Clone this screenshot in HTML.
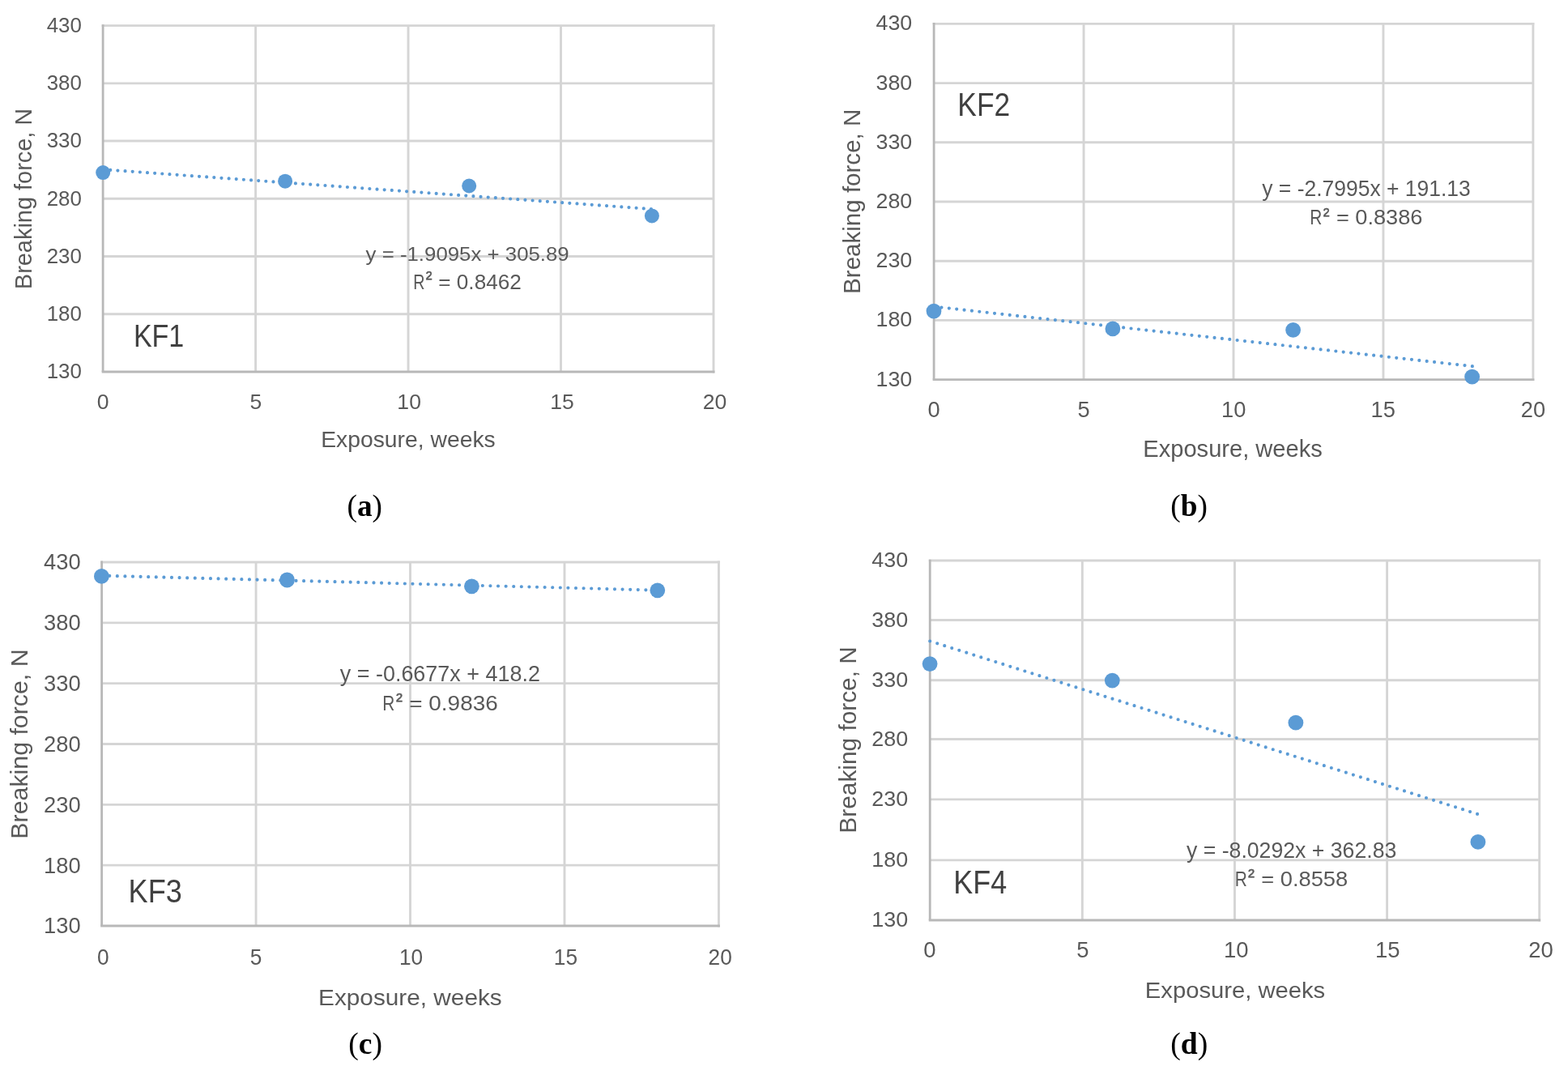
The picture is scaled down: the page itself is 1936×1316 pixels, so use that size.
<!DOCTYPE html>
<html><head><meta charset="utf-8"><title>Breaking force vs exposure</title>
<style>
html,body{margin:0;padding:0;background:#fff;}
svg{display:block;}
.s{font-family:"Liberation Sans",Arial,sans-serif;}
.p{font-family:"Liberation Serif","Times New Roman",serif;fill:#000;}
</style></head><body>
<svg width="1936" height="1316" viewBox="0 0 1936 1316">
<rect width="1936" height="1316" fill="#fff"/>
<g id="chart-a">
<line x1="127.1" y1="31.6" x2="881" y2="31.6" stroke="#d5d5d5" stroke-width="2.9" stroke-linecap="square"/>
<line x1="127.1" y1="102.83" x2="881" y2="102.83" stroke="#d5d5d5" stroke-width="2.9"/>
<line x1="127.1" y1="174.07" x2="881" y2="174.07" stroke="#d5d5d5" stroke-width="2.9"/>
<line x1="127.1" y1="245.3" x2="881" y2="245.3" stroke="#d5d5d5" stroke-width="2.9"/>
<line x1="127.1" y1="316.53" x2="881" y2="316.53" stroke="#d5d5d5" stroke-width="2.9"/>
<line x1="127.1" y1="387.77" x2="881" y2="387.77" stroke="#d5d5d5" stroke-width="2.9"/>
<line x1="315.57" y1="31.6" x2="315.57" y2="459" stroke="#d5d5d5" stroke-width="2.9"/>
<line x1="504.05" y1="31.6" x2="504.05" y2="459" stroke="#d5d5d5" stroke-width="2.9"/>
<line x1="692.52" y1="31.6" x2="692.52" y2="459" stroke="#d5d5d5" stroke-width="2.9"/>
<line x1="881" y1="31.6" x2="881" y2="459" stroke="#d5d5d5" stroke-width="2.9" stroke-linecap="square"/>
<line x1="127.1" y1="30.15" x2="127.1" y2="459" stroke="#b8b8b8" stroke-width="2.8"/>
<line x1="125.65" y1="459" x2="882.45" y2="459" stroke="#b8b8b8" stroke-width="2.8"/>
<text class="s" x="57.68" y="39.9" font-size="25.6" textLength="43.16" lengthAdjust="spacingAndGlyphs" fill="#595959">430</text>
<text class="s" x="57.68" y="111.13" font-size="25.6" textLength="43.16" lengthAdjust="spacingAndGlyphs" fill="#595959">380</text>
<text class="s" x="57.68" y="182.37" font-size="25.6" textLength="43.16" lengthAdjust="spacingAndGlyphs" fill="#595959">330</text>
<text class="s" x="57.68" y="253.6" font-size="25.6" textLength="43.16" lengthAdjust="spacingAndGlyphs" fill="#595959">280</text>
<text class="s" x="57.68" y="324.83" font-size="25.6" textLength="43.16" lengthAdjust="spacingAndGlyphs" fill="#595959">230</text>
<text class="s" x="57.68" y="396.07" font-size="25.6" textLength="43.16" lengthAdjust="spacingAndGlyphs" fill="#595959">180</text>
<text class="s" x="57.68" y="467.3" font-size="25.6" textLength="43.16" lengthAdjust="spacingAndGlyphs" fill="#595959">130</text>
<text class="s" x="119.73" y="504.54" font-size="26.3" textLength="14.78" lengthAdjust="spacingAndGlyphs" fill="#595959">0</text>
<text class="s" x="308.56" y="504.54" font-size="26.3" textLength="14.78" lengthAdjust="spacingAndGlyphs" fill="#595959">5</text>
<text class="s" x="490.37" y="504.54" font-size="26.3" textLength="29.56" lengthAdjust="spacingAndGlyphs" fill="#595959">10</text>
<text class="s" x="679.26" y="504.54" font-size="26.3" textLength="29.56" lengthAdjust="spacingAndGlyphs" fill="#595959">15</text>
<text class="s" x="867.83" y="504.54" font-size="26.3" textLength="29.56" lengthAdjust="spacingAndGlyphs" fill="#595959">20</text>
<text class="s" x="396.19" y="552.3" font-size="27.78" textLength="215.5" lengthAdjust="spacingAndGlyphs" fill="#595959">Exposure, weeks</text>
<text class="s" transform="translate(39 354.9) rotate(-90)" x="-2.26" y="0" font-size="28.87" textLength="223.42" lengthAdjust="spacingAndGlyphs" fill="#595959">Breaking force, N</text>
<circle cx="127.2" cy="213.1" r="9" fill="#5b9bd5"/>
<circle cx="352.1" cy="223.7" r="9" fill="#5b9bd5"/>
<circle cx="579.2" cy="229.5" r="9" fill="#5b9bd5"/>
<circle cx="804.9" cy="266.4" r="9" fill="#5b9bd5"/>
<line x1="127.1" y1="209.22" x2="805.61" y2="258.18" stroke="#5b9bd5" stroke-width="4.2" stroke-linecap="round" stroke-dasharray="0 9.17"/>
<text class="s" x="164.94" y="427.9" font-size="37.97" textLength="62.33" lengthAdjust="spacingAndGlyphs" fill="#404040">KF1</text>
<text class="s" x="451.6" y="321.5" font-size="24.32" textLength="251.15" lengthAdjust="spacingAndGlyphs" fill="#595959">y = -1.9095x + 305.89</text>
<text class="s" x="510.16" y="356.6" font-size="26.17" textLength="14.22" lengthAdjust="spacingAndGlyphs" fill="#595959">R</text>
<text stroke="#595959" stroke-width="0.45" class="s" x="525.63" y="352.48" font-size="24" textLength="7.78" lengthAdjust="spacingAndGlyphs" fill="#595959">²</text>
<text class="s" x="541.27" y="356.6" font-size="26.17" textLength="102.59" lengthAdjust="spacingAndGlyphs" fill="#595959">= 0.8462</text>
<text class="p" x="428.56" y="636.86" font-size="37.27">(<tspan font-weight="bold">a</tspan>)</text>
</g>
<g id="chart-b">
<line x1="1153.1" y1="29.4" x2="1892.9" y2="29.4" stroke="#d5d5d5" stroke-width="2.9" stroke-linecap="square"/>
<line x1="1153.1" y1="102.6" x2="1892.9" y2="102.6" stroke="#d5d5d5" stroke-width="2.9"/>
<line x1="1153.1" y1="175.8" x2="1892.9" y2="175.8" stroke="#d5d5d5" stroke-width="2.9"/>
<line x1="1153.1" y1="249" x2="1892.9" y2="249" stroke="#d5d5d5" stroke-width="2.9"/>
<line x1="1153.1" y1="322.2" x2="1892.9" y2="322.2" stroke="#d5d5d5" stroke-width="2.9"/>
<line x1="1153.1" y1="395.4" x2="1892.9" y2="395.4" stroke="#d5d5d5" stroke-width="2.9"/>
<line x1="1338.05" y1="29.4" x2="1338.05" y2="468.6" stroke="#d5d5d5" stroke-width="2.9"/>
<line x1="1523" y1="29.4" x2="1523" y2="468.6" stroke="#d5d5d5" stroke-width="2.9"/>
<line x1="1707.95" y1="29.4" x2="1707.95" y2="468.6" stroke="#d5d5d5" stroke-width="2.9"/>
<line x1="1892.9" y1="29.4" x2="1892.9" y2="468.6" stroke="#d5d5d5" stroke-width="2.9" stroke-linecap="square"/>
<line x1="1153.1" y1="27.95" x2="1153.1" y2="468.6" stroke="#b8b8b8" stroke-width="2.8"/>
<line x1="1151.65" y1="468.6" x2="1894.35" y2="468.6" stroke="#b8b8b8" stroke-width="2.8"/>
<text class="s" x="1081.52" y="37.43" font-size="26.57" textLength="44.74" lengthAdjust="spacingAndGlyphs" fill="#595959">430</text>
<text class="s" x="1081.52" y="110.63" font-size="26.57" textLength="44.74" lengthAdjust="spacingAndGlyphs" fill="#595959">380</text>
<text class="s" x="1081.52" y="183.83" font-size="26.57" textLength="44.74" lengthAdjust="spacingAndGlyphs" fill="#595959">330</text>
<text class="s" x="1081.52" y="257.03" font-size="26.57" textLength="44.74" lengthAdjust="spacingAndGlyphs" fill="#595959">280</text>
<text class="s" x="1081.52" y="330.23" font-size="26.57" textLength="44.74" lengthAdjust="spacingAndGlyphs" fill="#595959">230</text>
<text class="s" x="1081.52" y="403.43" font-size="26.57" textLength="44.74" lengthAdjust="spacingAndGlyphs" fill="#595959">180</text>
<text class="s" x="1081.52" y="476.63" font-size="26.57" textLength="44.74" lengthAdjust="spacingAndGlyphs" fill="#595959">130</text>
<text class="s" x="1145.44" y="515.28" font-size="26.99" textLength="15.15" lengthAdjust="spacingAndGlyphs" fill="#595959">0</text>
<text class="s" x="1330.5" y="515.28" font-size="26.99" textLength="15.15" lengthAdjust="spacingAndGlyphs" fill="#595959">5</text>
<text class="s" x="1508.04" y="515.28" font-size="26.99" textLength="30.3" lengthAdjust="spacingAndGlyphs" fill="#595959">10</text>
<text class="s" x="1692.5" y="515.28" font-size="26.99" textLength="30.3" lengthAdjust="spacingAndGlyphs" fill="#595959">15</text>
<text class="s" x="1877.8" y="515.28" font-size="26.99" textLength="30.3" lengthAdjust="spacingAndGlyphs" fill="#595959">20</text>
<text class="s" x="1411.33" y="564.2" font-size="29" textLength="221.38" lengthAdjust="spacingAndGlyphs" fill="#595959">Exposure, weeks</text>
<text class="s" transform="translate(1062.2 360.6) rotate(-90)" x="-2.31" y="0" font-size="29.3" textLength="228.22" lengthAdjust="spacingAndGlyphs" fill="#595959">Breaking force, N</text>
<circle cx="1153" cy="384.1" r="9.4" fill="#5b9bd5"/>
<circle cx="1373.9" cy="405.9" r="9.4" fill="#5b9bd5"/>
<circle cx="1596.6" cy="407.4" r="9.4" fill="#5b9bd5"/>
<circle cx="1817.6" cy="465.2" r="9.4" fill="#5b9bd5"/>
<line x1="1153.1" y1="378.51" x2="1818.92" y2="452.28" stroke="#5b9bd5" stroke-width="4.2" stroke-linecap="round" stroke-dasharray="0 9.42"/>
<text class="s" x="1182.34" y="143" font-size="39.96" textLength="64.79" lengthAdjust="spacingAndGlyphs" fill="#404040">KF2</text>
<text class="s" x="1558.3" y="242.2" font-size="27.59" textLength="257.37" lengthAdjust="spacingAndGlyphs" fill="#595959">y = -2.7995x + 191.13</text>
<text class="s" x="1617.37" y="277.3" font-size="26.6" textLength="15.05" lengthAdjust="spacingAndGlyphs" fill="#595959">R</text>
<text stroke="#595959" stroke-width="0.45" class="s" x="1633.84" y="273.52" font-size="24.91" textLength="7.78" lengthAdjust="spacingAndGlyphs" fill="#595959">²</text>
<text class="s" x="1649.93" y="277.3" font-size="26.6" textLength="106.47" lengthAdjust="spacingAndGlyphs" fill="#595959">= 0.8386</text>
<text class="p" x="1445.26" y="636.86" font-size="37.27">(<tspan font-weight="bold">b</tspan>)</text>
</g>
<g id="chart-c">
<line x1="125.6" y1="694" x2="887.45" y2="694" stroke="#d5d5d5" stroke-width="2.9" stroke-linecap="square"/>
<line x1="125.6" y1="768.83" x2="887.45" y2="768.83" stroke="#d5d5d5" stroke-width="2.9"/>
<line x1="125.6" y1="843.67" x2="887.45" y2="843.67" stroke="#d5d5d5" stroke-width="2.9"/>
<line x1="125.6" y1="918.5" x2="887.45" y2="918.5" stroke="#d5d5d5" stroke-width="2.9"/>
<line x1="125.6" y1="993.33" x2="887.45" y2="993.33" stroke="#d5d5d5" stroke-width="2.9"/>
<line x1="125.6" y1="1068.17" x2="887.45" y2="1068.17" stroke="#d5d5d5" stroke-width="2.9"/>
<line x1="316.06" y1="694" x2="316.06" y2="1143" stroke="#d5d5d5" stroke-width="2.9"/>
<line x1="506.52" y1="694" x2="506.52" y2="1143" stroke="#d5d5d5" stroke-width="2.9"/>
<line x1="696.99" y1="694" x2="696.99" y2="1143" stroke="#d5d5d5" stroke-width="2.9"/>
<line x1="887.45" y1="694" x2="887.45" y2="1143" stroke="#d5d5d5" stroke-width="2.9" stroke-linecap="square"/>
<line x1="125.6" y1="692.55" x2="125.6" y2="1143" stroke="#b8b8b8" stroke-width="2.8"/>
<line x1="124.15" y1="1143" x2="888.9" y2="1143" stroke="#b8b8b8" stroke-width="2.8"/>
<text class="s" x="53.99" y="703.41" font-size="28.24" textLength="45.59" lengthAdjust="spacingAndGlyphs" fill="#595959">430</text>
<text class="s" x="53.99" y="778.24" font-size="28.24" textLength="45.59" lengthAdjust="spacingAndGlyphs" fill="#595959">380</text>
<text class="s" x="53.99" y="853.08" font-size="28.24" textLength="45.59" lengthAdjust="spacingAndGlyphs" fill="#595959">330</text>
<text class="s" x="53.99" y="927.91" font-size="28.24" textLength="45.59" lengthAdjust="spacingAndGlyphs" fill="#595959">280</text>
<text class="s" x="53.99" y="1002.74" font-size="28.24" textLength="45.59" lengthAdjust="spacingAndGlyphs" fill="#595959">230</text>
<text class="s" x="53.99" y="1077.58" font-size="28.24" textLength="45.59" lengthAdjust="spacingAndGlyphs" fill="#595959">180</text>
<text class="s" x="53.99" y="1152.41" font-size="28.24" textLength="45.59" lengthAdjust="spacingAndGlyphs" fill="#595959">130</text>
<text class="s" x="119.92" y="1191.23" font-size="27.13" textLength="14.6" lengthAdjust="spacingAndGlyphs" fill="#595959">0</text>
<text class="s" x="308.69" y="1191.23" font-size="27.13" textLength="14.6" lengthAdjust="spacingAndGlyphs" fill="#595959">5</text>
<text class="s" x="492.93" y="1191.23" font-size="27.13" textLength="29.19" lengthAdjust="spacingAndGlyphs" fill="#595959">10</text>
<text class="s" x="683.8" y="1191.23" font-size="27.13" textLength="29.19" lengthAdjust="spacingAndGlyphs" fill="#595959">15</text>
<text class="s" x="874.56" y="1191.23" font-size="27.13" textLength="29.19" lengthAdjust="spacingAndGlyphs" fill="#595959">20</text>
<text class="s" x="393.07" y="1240.8" font-size="27.78" textLength="226.66" lengthAdjust="spacingAndGlyphs" fill="#595959">Exposure, weeks</text>
<text class="s" transform="translate(34.2 1033.3) rotate(-90)" x="-2.37" y="0" font-size="30.15" textLength="234.24" lengthAdjust="spacingAndGlyphs" fill="#595959">Breaking force, N</text>
<circle cx="125.4" cy="711.4" r="9.4" fill="#5b9bd5"/>
<circle cx="354.5" cy="716" r="9.4" fill="#5b9bd5"/>
<circle cx="582.4" cy="723.8" r="9.4" fill="#5b9bd5"/>
<circle cx="811.8" cy="728.8" r="9.4" fill="#5b9bd5"/>
<line x1="125.6" y1="710.66" x2="811.27" y2="728.65" stroke="#5b9bd5" stroke-width="4.2" stroke-linecap="round" stroke-dasharray="0 9.6"/>
<text class="s" x="158.58" y="1114.1" font-size="40.96" textLength="66.18" lengthAdjust="spacingAndGlyphs" fill="#404040">KF3</text>
<text class="s" x="419.8" y="840.7" font-size="27.02" textLength="247.09" lengthAdjust="spacingAndGlyphs" fill="#595959">y = -0.6677x + 418.2</text>
<text class="s" x="472.37" y="877.3" font-size="26.6" textLength="15.05" lengthAdjust="spacingAndGlyphs" fill="#595959">R</text>
<text stroke="#595959" stroke-width="0.45" class="s" x="488.93" y="872.88" font-size="24" textLength="7.99" lengthAdjust="spacingAndGlyphs" fill="#595959">²</text>
<text class="s" x="505.29" y="877.3" font-size="26.6" textLength="109.44" lengthAdjust="spacingAndGlyphs" fill="#595959">= 0.9836</text>
<text class="p" x="430.25" y="1301.19" font-size="37.6">(<tspan font-weight="bold">c</tspan>)</text>
</g>
<g id="chart-d">
<line x1="1148.2" y1="692" x2="1900.7" y2="692" stroke="#d5d5d5" stroke-width="2.9" stroke-linecap="square"/>
<line x1="1148.2" y1="765.5" x2="1900.7" y2="765.5" stroke="#d5d5d5" stroke-width="2.9"/>
<line x1="1148.2" y1="839.8" x2="1900.7" y2="839.8" stroke="#d5d5d5" stroke-width="2.9"/>
<line x1="1148.2" y1="912.5" x2="1900.7" y2="912.5" stroke="#d5d5d5" stroke-width="2.9"/>
<line x1="1148.2" y1="986.9" x2="1900.7" y2="986.9" stroke="#d5d5d5" stroke-width="2.9"/>
<line x1="1148.2" y1="1061.9" x2="1900.7" y2="1061.9" stroke="#d5d5d5" stroke-width="2.9"/>
<line x1="1336.33" y1="692.1" x2="1336.33" y2="1136" stroke="#d5d5d5" stroke-width="2.9"/>
<line x1="1524.45" y1="692.1" x2="1524.45" y2="1136" stroke="#d5d5d5" stroke-width="2.9"/>
<line x1="1712.58" y1="692.1" x2="1712.58" y2="1136" stroke="#d5d5d5" stroke-width="2.9"/>
<line x1="1900.7" y1="692.1" x2="1900.7" y2="1136" stroke="#d5d5d5" stroke-width="2.9" stroke-linecap="square"/>
<line x1="1148.2" y1="690.65" x2="1148.2" y2="1136" stroke="#b8b8b8" stroke-width="2.8"/>
<line x1="1146.75" y1="1136" x2="1902.15" y2="1136" stroke="#b8b8b8" stroke-width="2.8"/>
<text class="s" x="1076.32" y="700.29" font-size="26.43" textLength="44.85" lengthAdjust="spacingAndGlyphs" fill="#595959">430</text>
<text class="s" x="1076.32" y="773.79" font-size="26.43" textLength="44.85" lengthAdjust="spacingAndGlyphs" fill="#595959">380</text>
<text class="s" x="1076.32" y="848.09" font-size="26.43" textLength="44.85" lengthAdjust="spacingAndGlyphs" fill="#595959">330</text>
<text class="s" x="1076.32" y="920.79" font-size="26.43" textLength="44.85" lengthAdjust="spacingAndGlyphs" fill="#595959">280</text>
<text class="s" x="1076.32" y="995.19" font-size="26.43" textLength="44.85" lengthAdjust="spacingAndGlyphs" fill="#595959">230</text>
<text class="s" x="1076.32" y="1070.19" font-size="26.43" textLength="44.85" lengthAdjust="spacingAndGlyphs" fill="#595959">180</text>
<text class="s" x="1076.32" y="1144.29" font-size="26.43" textLength="44.85" lengthAdjust="spacingAndGlyphs" fill="#595959">130</text>
<text class="s" x="1140.38" y="1181.78" font-size="26.99" textLength="15.26" lengthAdjust="spacingAndGlyphs" fill="#595959">0</text>
<text class="s" x="1329.22" y="1181.78" font-size="26.99" textLength="15.26" lengthAdjust="spacingAndGlyphs" fill="#595959">5</text>
<text class="s" x="1510.97" y="1181.78" font-size="26.99" textLength="30.53" lengthAdjust="spacingAndGlyphs" fill="#595959">10</text>
<text class="s" x="1698.11" y="1181.78" font-size="26.99" textLength="30.53" lengthAdjust="spacingAndGlyphs" fill="#595959">15</text>
<text class="s" x="1887.23" y="1181.78" font-size="26.99" textLength="30.53" lengthAdjust="spacingAndGlyphs" fill="#595959">20</text>
<text class="s" x="1413.82" y="1231.9" font-size="27.1" textLength="222.39" lengthAdjust="spacingAndGlyphs" fill="#595959">Exposure, weeks</text>
<text class="s" transform="translate(1056.9 1026.3) rotate(-90)" x="-2.33" y="0" font-size="29.3" textLength="230.46" lengthAdjust="spacingAndGlyphs" fill="#595959">Breaking force, N</text>
<circle cx="1148.1" cy="819.6" r="9.4" fill="#5b9bd5"/>
<circle cx="1373.3" cy="840.1" r="9.4" fill="#5b9bd5"/>
<circle cx="1599.9" cy="892.2" r="9.4" fill="#5b9bd5"/>
<circle cx="1824.9" cy="1039.4" r="9.4" fill="#5b9bd5"/>
<line x1="1148.2" y1="791.49" x2="1825.45" y2="1005.34" stroke="#5b9bd5" stroke-width="4.2" stroke-linecap="round" stroke-dasharray="0 9.45"/>
<text class="s" x="1177.3" y="1102.8" font-size="40.39" textLength="65.8" lengthAdjust="spacingAndGlyphs" fill="#404040">KF4</text>
<text class="s" x="1465" y="1059" font-size="27.73" textLength="259.28" lengthAdjust="spacingAndGlyphs" fill="#595959">y = -8.0292x + 362.83</text>
<text class="s" x="1524.77" y="1094.3" font-size="26.6" textLength="15.05" lengthAdjust="spacingAndGlyphs" fill="#595959">R</text>
<text stroke="#595959" stroke-width="0.45" class="s" x="1540.92" y="1089.88" font-size="24" textLength="7.99" lengthAdjust="spacingAndGlyphs" fill="#595959">²</text>
<text class="s" x="1557.32" y="1094.3" font-size="26.6" textLength="106.88" lengthAdjust="spacingAndGlyphs" fill="#595959">= 0.8558</text>
<text class="p" x="1445.25" y="1301.19" font-size="37.6">(<tspan font-weight="bold">d</tspan>)</text>
</g>
</svg>
</body></html>
